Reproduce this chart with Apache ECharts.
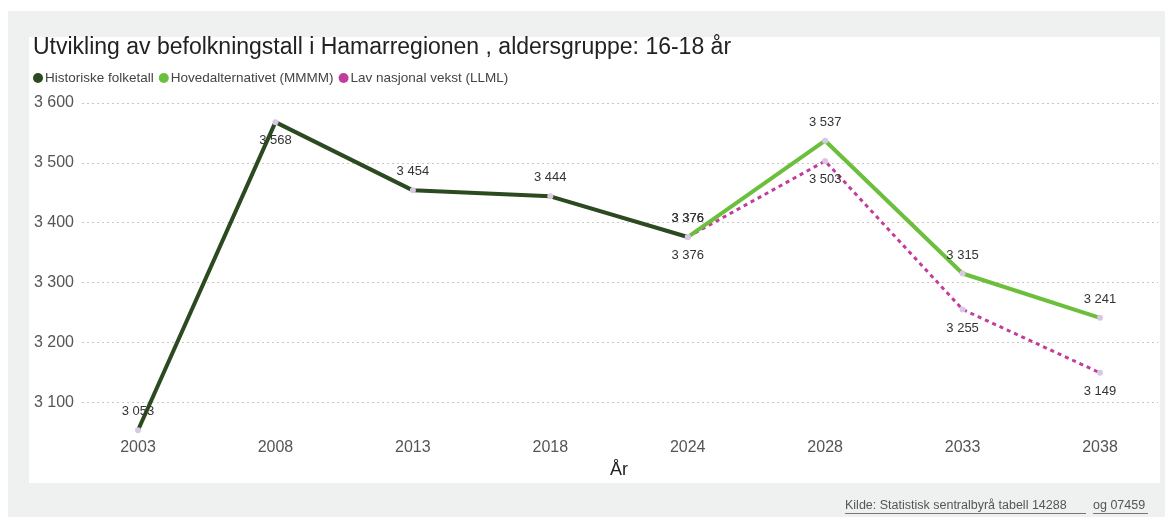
<!DOCTYPE html>
<html>
<head>
<meta charset="utf-8">
<title>Befolkning Hamarregionen 16-18 år</title>
<script src="https://cdn.jsdelivr.net/npm/echarts@6/dist/echarts.min.js"></script>
<style>
  html, body { margin: 0; padding: 0; background: #fff; }
  #chart { width: 1173px; height: 517px; }
</style>
</head>
<body>
<div id="chart"></div>
<script>
// data
const years = ['2003', '2008', '2013', '2018', '2024', '2028', '2033', '2038']
const historiske = [3053, 3568, 3454, 3444, 3376, null, null, null]
const hovedalternativet = [null, null, null, null, 3376, 3537, 3315, 3241]
const lavVekst = [null, null, null, null, 3376, 3503, 3255, 3149]
const yTicks = [3000, 3600, 100] // min, max, step

const seriesNames = ['Historiske folketall', 'Hovedalternativet (MMMM)', 'Lav nasjonal vekst (LLML)']
const colors = ['#2b4a1f', '#6cbf3c', '#c23c9c']
const pointColor = '#d8c8e2'

// tall med mellomrom som tusenskille
const fmt = v => String(v).replace(/\B(?=(\d{3})+(?!\d))/g, ' ')

const myChart = echarts.init(document.getElementById('chart'), null, { renderer: 'canvas' })

// toppunktet i historikken får etiketten under
const peak = historiske.indexOf(Math.max(...historiske.filter(v => v != null)))
const histData = historiske.map((v, i) => i === peak ? { value: v, label: { position: 'bottom' } } : v)

const font = 'Liberation Sans, Arial, sans-serif'
const gridTop = 103
const gridBottom = 55

const option = {
  backgroundColor: '#ffffff',
  textStyle: { fontFamily: font },
  graphic: [
    { type: 'rect', left: 8, top: 11, shape: { width: 1157, height: 506 }, style: { fill: '#eff1f0' }, z: -10 },
    { type: 'rect', left: 29, top: 37, shape: { width: 1131, height: 446 }, style: { fill: '#ffffff' }, z: -9 },
    { type: 'text', left: 845, top: 499, style: { text: 'Kilde: Statistisk sentralbyrå tabell 14288', fill: '#555', font: '12.5px ' + font } },
    { type: 'text', left: 1093, top: 499, style: { text: 'og 07459', fill: '#555', font: '12.5px ' + font } },
    { type: 'line', shape: { x1: 845, y1: 513.5, x2: 1086, y2: 513.5 }, style: { stroke: '#777', lineWidth: 1 } },
    { type: 'line', shape: { x1: 1093, y1: 513.5, x2: 1148, y2: 513.5 }, style: { stroke: '#777', lineWidth: 1 } }
  ],
  title: {
    text: 'Utvikling av befolkningstall i Hamarregionen , aldersgruppe: 16-18 år',
    left: 28,
    top: 31,
    textStyle: { fontSize: 23, fontWeight: 'normal', color: '#222', fontFamily: font }
  },
  legend: {
    left: 28,
    top: 66,
    itemWidth: 10,
    itemHeight: 10,
    itemGap: 5,
    icon: 'circle',
    textStyle: { fontSize: 13.5, color: '#444', padding: [0, 0, 0, -3] },
    data: seriesNames.map((n, i) => ({ name: n, itemStyle: { color: colors[i] } }))
  },
  grid: [
    { left: 82, right: 15, top: gridTop, bottom: gridBottom },
    { left: 138, right: 73, top: gridTop, bottom: gridBottom }
  ],
  xAxis: [
    { type: 'category', gridIndex: 0, data: years, show: false },
    {
      type: 'category',
      gridIndex: 1,
      data: years,
      boundaryGap: false,
      offset: -22,
      axisLine: { show: false },
      axisTick: { show: false },
      axisLabel: { fontSize: 16, color: '#555', margin: 0 },
      name: 'År',
      nameLocation: 'middle',
      nameGap: 18,
      nameTextStyle: { fontSize: 18, color: '#222' }
    }
  ],
  yAxis: [
    {
      type: 'value',
      gridIndex: 0,
      min: yTicks[0],
      max: yTicks[1],
      interval: yTicks[2],
      axisLine: { show: false },
      axisTick: { show: false },
      axisLabel: { fontSize: 16, color: '#555', margin: 8, showMinLabel: false, formatter: fmt },
      splitLine: { show: true, showMinLine: false, lineStyle: { type: [2, 3], color: '#c8c8c8', width: 1 } }
    },
    {
      type: 'value',
      gridIndex: 1,
      min: yTicks[0],
      max: yTicks[1],
      interval: yTicks[2],
      show: false,
      splitLine: { show: false }
    }
  ],
  series: [
    {
      name: seriesNames[2],
      type: 'line',
      xAxisIndex: 1,
      yAxisIndex: 1,
      data: lavVekst,
      symbol: 'circle',
      symbolSize: 6,
      itemStyle: { color: pointColor },
      lineStyle: { color: colors[2], width: 3, type: [4, 4] },
      label: { show: true, position: 'bottom', distance: 9, fontSize: 13, color: '#333', formatter: p => fmt(p.value) },
      z: 2
    },
    {
      name: seriesNames[1],
      type: 'line',
      xAxisIndex: 1,
      yAxisIndex: 1,
      data: hovedalternativet,
      symbol: 'circle',
      symbolSize: 6,
      itemStyle: { color: pointColor },
      lineStyle: { color: colors[1], width: 4 },
      label: { show: true, position: 'top', distance: 9, fontSize: 13, color: '#333', formatter: p => fmt(p.value) },
      z: 3
    },
    {
      name: seriesNames[0],
      type: 'line',
      xAxisIndex: 1,
      yAxisIndex: 1,
      data: histData,
      symbol: 'circle',
      symbolSize: 6,
      itemStyle: { color: pointColor },
      lineStyle: { color: colors[0], width: 4 },
      label: { show: true, position: 'top', distance: 9, fontSize: 13, color: '#333', formatter: p => fmt(p.value) },
      z: 4
    }
  ]
}

myChart.setOption(option)
</script>
</body>
</html>
